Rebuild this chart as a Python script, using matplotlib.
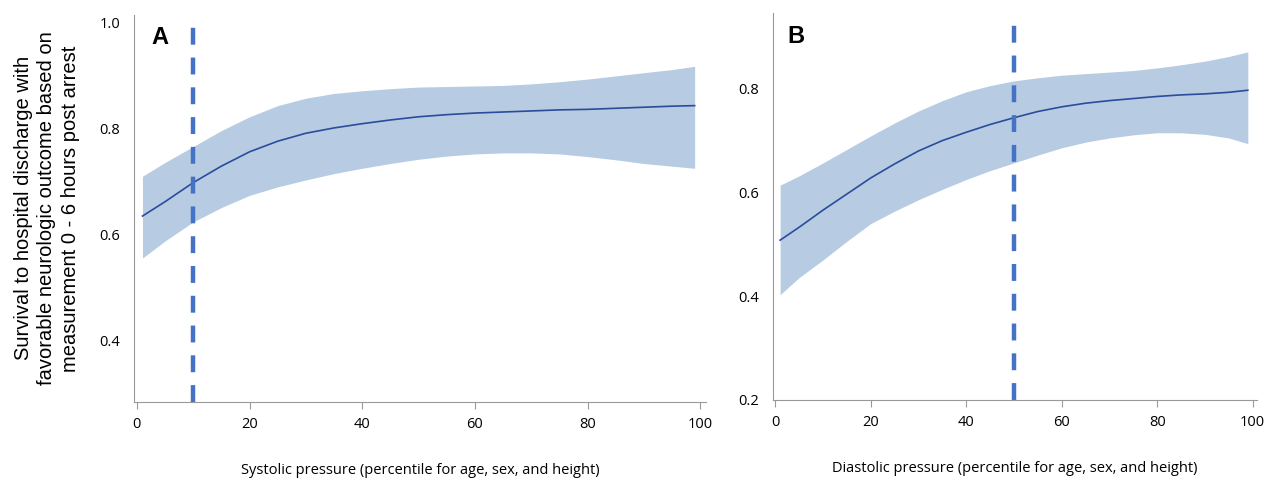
import matplotlib.pyplot as plt

# panel A - systolic
sys_x = [1, 5, 10, 15, 20, 25, 30, 35, 40, 45, 50, 55, 60, 65, 70, 75, 80, 85, 90, 95, 99]
sys_mid = [0.635, 0.662, 0.698, 0.729, 0.756, 0.776, 0.791, 0.801, 0.809, 0.816, 0.822,
           0.826, 0.829, 0.831, 0.833, 0.835, 0.836, 0.838, 0.840, 0.842, 0.843]
sys_hi = [0.710, 0.736, 0.766, 0.796, 0.822, 0.843, 0.857, 0.866, 0.871, 0.875, 0.878,
          0.879, 0.880, 0.881, 0.884, 0.888, 0.893, 0.899, 0.905, 0.911, 0.917]
sys_lo = [0.556, 0.588, 0.624, 0.651, 0.674, 0.690, 0.703, 0.715, 0.725, 0.734, 0.742,
          0.748, 0.752, 0.754, 0.754, 0.752, 0.747, 0.741, 0.734, 0.729, 0.725]
sys_cut = 10

# panel B - diastolic
dia_x = [1, 5, 10, 15, 20, 25, 30, 35, 40, 45, 50, 55, 60, 65, 70, 75, 80, 85, 90, 95, 99]
dia_mid = [0.508, 0.533, 0.566, 0.597, 0.628, 0.655, 0.680, 0.700, 0.716, 0.731, 0.744,
           0.756, 0.765, 0.772, 0.777, 0.781, 0.785, 0.788, 0.790, 0.793, 0.797]
dia_hi = [0.614, 0.632, 0.657, 0.683, 0.709, 0.734, 0.757, 0.777, 0.794, 0.806, 0.815,
          0.821, 0.826, 0.829, 0.832, 0.835, 0.840, 0.846, 0.853, 0.862, 0.871]
dia_lo = [0.403, 0.436, 0.470, 0.506, 0.540, 0.564, 0.586, 0.606, 0.625, 0.642, 0.657,
          0.672, 0.686, 0.697, 0.705, 0.711, 0.715, 0.715, 0.712, 0.705, 0.694]
dia_cut = 50

xticks = [0, 20, 40, 60, 80, 100]

plt.rcParams['font.family'] = ['Open Sans', 'DejaVu Sans']

fill_col = '#b7cbe2'
line_col = '#2a4d9b'
dash_col = '#4472c4'
spine_col = '#999999'

fig = plt.figure(figsize=(12.68, 4.79), dpi=100)
axA = fig.add_axes([0.1057, 0.161, 0.451, 0.808])
axB = fig.add_axes([0.6096, 0.165, 0.382, 0.808])


def style(ax, letter, xlabel):
    for s in ['top', 'right']:
        ax.spines[s].set_visible(False)
    for s in ['left', 'bottom']:
        ax.spines[s].set_color(spine_col)
    ax.set_xticks(xticks)
    ax.tick_params(axis='x', length=5, color=spine_col, labelsize=10.5, pad=6)
    ax.tick_params(axis='y', length=0, labelsize=10.5, pad=10)
    ax.set_xlim(-0.5, 101)
    ax.set_xlabel(xlabel, fontsize=10.5, labelpad=22)
    ax.text(0.03, 0.97, letter, transform=ax.transAxes, fontsize=17,
            fontweight='bold', va='top', ha='left', family='Liberation Sans')


axA.fill_between(sys_x, sys_lo, sys_hi, color=fill_col, lw=0)
axA.plot(sys_x, sys_mid, color=line_col, lw=1.2)
axA.axvline(sys_cut, ymax=0.985, color=dash_col, lw=3.2, dashes=(3.8, 2.9))
axA.set_ylim(0.285, 1.014)
axA.set_yticks([0.4, 0.6, 0.8, 1.0])
axA.set_yticklabels(['0.4', '0.6', '0.8', '1.0'])
style(axA, 'A', 'Systolic pressure (percentile for age, sex, and height)')
axA.set_ylabel('Survival to hospital discharge with\n'
               'favorable neurologic outcome based on\n'
               'measurement 0 - 6 hours post arrest',
               fontsize=14.5, family='Liberation Sans', labelpad=14,
               linespacing=1.3)

axB.fill_between(dia_x, dia_lo, dia_hi, color=fill_col, lw=0)
axB.plot(dia_x, dia_mid, color=line_col, lw=1.2)
axB.axvline(dia_cut, ymax=0.985, color=dash_col, lw=3.2, dashes=(3.8, 2.9))
axB.set_ylim(0.2, 0.946)
axB.set_yticks([0.2, 0.4, 0.6, 0.8])
style(axB, 'B', 'Diastolic pressure (percentile for age, sex, and height)')

fig.savefig('out.png', dpi=100)
